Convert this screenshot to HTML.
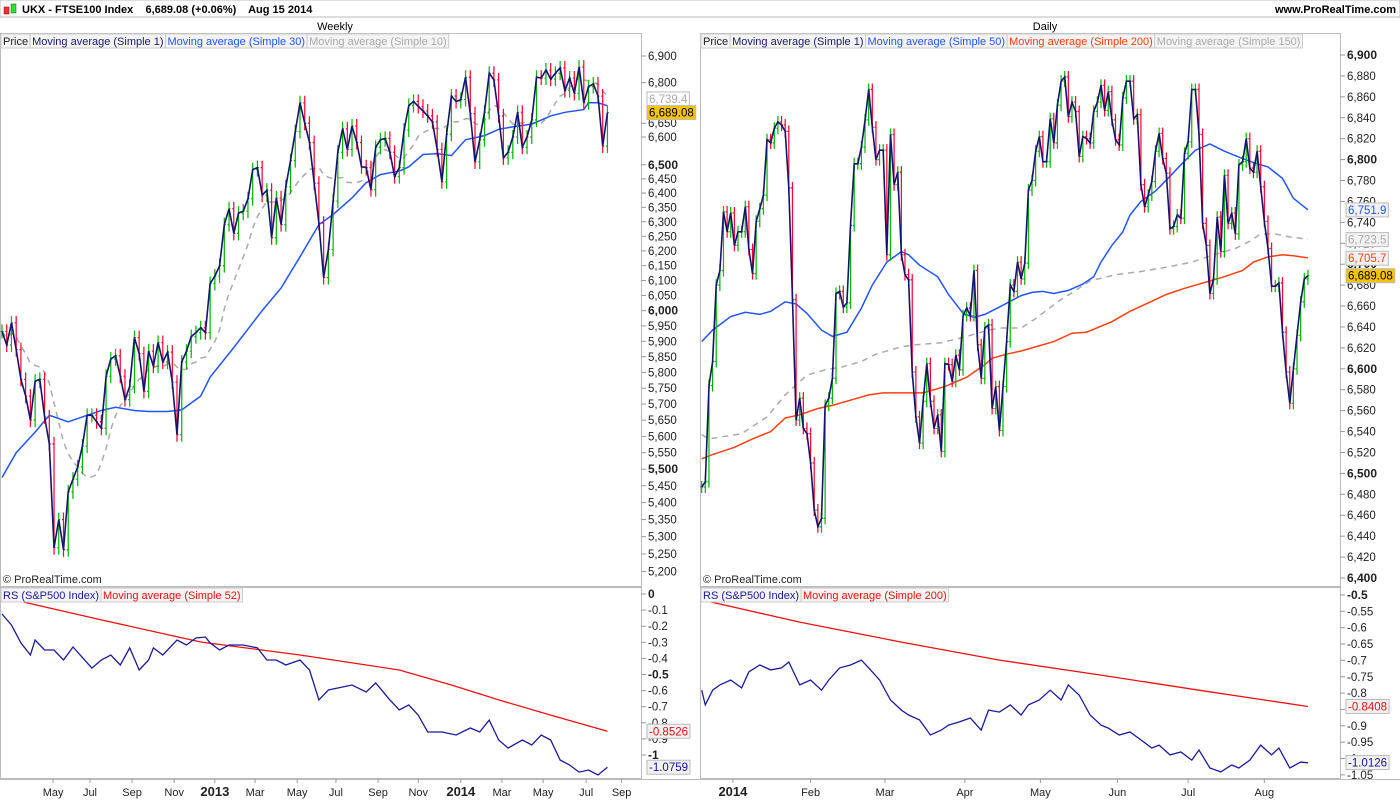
<!DOCTYPE html>
<html><head><meta charset="utf-8"><style>
body{margin:0;background:#fff;font-family:"Liberation Sans",Arial,sans-serif;}
svg text{font-family:"Liberation Sans",Arial,sans-serif;}
</style></head><body>
<svg id="c" width="1400" height="800" viewBox="0 0 1400 800" xmlns="http://www.w3.org/2000/svg">
<defs>
<clipPath id="cl1"><rect x="0" y="33" width="641" height="553"/></clipPath>
<clipPath id="cl2"><rect x="700" y="33" width="640" height="553"/></clipPath>
<clipPath id="cl3"><rect x="0" y="587" width="641" height="191"/></clipPath>
<clipPath id="cl4"><rect x="700" y="587" width="640" height="191"/></clipPath>
</defs>
<g>
<rect x="0" y="0" width="1400" height="17" fill="#fff" stroke="#bbb"/>
<rect x="4" y="7" width="5" height="7" fill="#e33" stroke="#800" stroke-width="0.5"/>
<rect x="11" y="4" width="5" height="9" fill="#3d3" stroke="#060" stroke-width="0.5"/>
<text x="22" y="13" font-size="11" font-weight="bold">UKX - FTSE100 Index &#160;&#160; 6,689.08 (+0.06%) &#160;&#160; Aug 15 2014</text>
<text x="1396" y="13" font-size="11" font-weight="bold" text-anchor="end">www.ProRealTime.com</text>
</g>
<text x="335" y="30" font-size="11" text-anchor="middle">Weekly</text>
<text x="1045" y="30" font-size="11" text-anchor="middle">Daily</text>
<g fill="none" stroke="#bbb">
<rect x="0.5" y="33.5" width="641" height="553"/>
<rect x="0.5" y="587.5" width="641" height="191"/>
<rect x="700.5" y="33.5" width="640" height="553"/>
<rect x="700.5" y="587.5" width="640" height="191"/>
<line x1="0" y1="779.5" x2="1400" y2="779.5"/>
</g>
<g id="marks"></g>
<g id="axes"></g>
<g id="legends" font-size="11"></g>
</svg>
<script>
// ---- Weekly data ----
const wClose=[5932,5888,5960,5873,5778,5725,5650,5772,5778,5660,5577,5268,5350,5262,5432,5470,5507,5570,5665,5665,5645,5625,5788,5843,5853,5788,5714,5756,5912,5860,5740,5868,5820,5896,5833,5865,5769,5605,5833,5868,5915,5928,
5944,5928,6090,6115,6150,6290,6345,6260,6330,6337,6380,6483,6490,6393,6410,6245,6383,6290,6422,6515,6620,6725,6650,6580,6435,6295,6110,6205,6372,6545,6630,6555,6640,6580,6493,6490,6412,6563,6590,6595,6545,6458,6490,
6625,6715,
6730,6712,6695,6677,6655,6555,6440,6610,6750,6730,6737,6820,6685,6510,6590,6690,6835,6810,6677,6525,6545,6600,6690,6563,6600,6662,6820,6817,6847,6813,6835,6855,6770,6817,6760,6858,6725,6785,6795,6750,6567,6689];
const wMa30Idx=[0,3,7,10,14,17,21,24,28,31,35,38,42,44,49,55,59,63,67,70,74,77,80,84,86,89,92,95,98,102,105,109,112,116,119,123,124,126,128];
const wMa30=[5475,5550,5613,5665,5645,5660,5680,5690,5680,5677,5677,5682,5725,5785,5880,6000,6075,6180,6290,6325,6383,6437,6465,6478,6493,6537,6540,6533,6590,6605,6628,6640,6647,6677,6690,6700,6725,6725,6714];
const wRsIdx=[0,2,4,6,7,9,11,13,15,19,21,23,25,27,29,31,32,34,37,39,41,43,44,46,48,51,54,56,58,60,63,65,67,69,71,74,77,79,82,84,86,88,90,93,96,99,101,103,105,107,110,112,114,116,118,120,122,124,126,128];
const wRs=[-.124,-.193,-.304,-.379,-.286,-.348,-.348,-.41,-.329,-.46,-.41,-.379,-.441,-.335,-.472,-.41,-.335,-.379,-.286,-.317,-.273,-.267,-.304,-.348,-.317,-.317,-.335,-.41,-.41,-.441,-.41,-.472,-.658,-.596,-.584,-.565,-.609,-.553,-.658,-.72,-.689,-.752,-.857,-.857,-.876,-.832,-.857,-.783,-.907,-.957,-.907,-.938,-.876,-.907,-1.031,-1.062,-1.106,-1.093,-1.124,-1.076];
const wRsMaIdx=[0,21,42,63,84,95,105,116,128];
const wRsMa=[-0.019,-0.161,-0.298,-0.379,-0.472,-0.565,-0.658,-0.752,-0.853];
const wPriceTicks=[6900,6800,6650,6600,6500,6450,6400,6350,6300,6250,6200,6150,6100,6050,6000,5950,5900,5850,5800,5750,5700,5650,5600,5550,5500,5450,5400,5350,5300,5250,5200];
const wPriceBold=[6500,6000,5500];
const wRsTicks=[0,-0.1,-0.2,-0.3,-0.4,-0.5,-0.6,-0.7,-0.8,-0.9,-1];
const wMonthLabels=["May","Jul","Sep","Nov","2013","Mar","May","Jul","Sep","Nov","2014","Mar","May","Jul","Sep"];
const wMonthIdx=[10.8,18.6,27.5,36.4,45,53.5,62.4,70.6,79.5,88,97,105.7,114.4,123.5,131];
// ---- Daily data ----
const dClose=[6487,6492,6584,6607,6680,6694,6750,6731,6749,6718,6731,6731,6755,6714,6691,6741,6753,6766,6819,6816,6830,6836,6833,6827,6773,6666,6551,6572,6543,6538,6510,6465,6449,6457,6565,6572,6591,6672,6674,6659,6663,6737,6796,6796,6812,6838,6867,6831,6800,6809,6809,6709,6824,6776,6788,6709,6690,6685,6597,6554,6529,6569,6605,6569,6543,6556,6521,6605,6604,6588,6613,6599,6651,6658,6651,6694,6623,6591,6639,6642,6562,6583,6541,6583,6626,6680,6674,6702,
6686,6701,6771,6780,6808,6822,6798,6798,6839,6816,6852,6875,6879,6841,6855,6846,6803,6822,6820,6816,6846,6855,6871,6847,6865,6838,6819,6814,6859,6875,6875,6839,6843,6776,6755,6766,6779,6808,6825,6801,6787,6734,6736,6747,6744,6806,6817,6867,6867,6824,6739,6718,6672,6686,6745,6712,6785,6739,6749,6729,6795,6798,6820,6792,6788,6808,6774,6741,6715,6679,6679,6682,6635,6597,6567,6600,6632,6664,6686,6689];
const dMa50Idx=[0,3,8,12,16,19,23,26,29,33,36,40,44,47,51,55,57,60,65,68,72,75,78,82,88,91,94,97,101,105,108,110,113,116,118,121,125,129,132,136,140,144,149,153,156,160,163,167];
const dMa50=[6626,6637,6650,6654,6652,6655,6664,6662,6653,6637,6631,6635,6658,6680,6702,6712,6709,6699,6688,6671,6653,6649,6652,6659,6670,6673,6674,6672,6675,6681,6688,6702,6718,6731,6747,6760,6770,6784,6795,6809,6815,6808,6801,6796,6793,6782,6763,6752];
const dMa200Idx=[0,3,9,14,19,23,27,32,36,41,46,50,55,61,67,73,78,80,84,88,91,97,102,106,113,118,123,128,133,139,143,149,152,156,160,163,167];
const dMa200=[6514,6518,6525,6533,6540,6553,6556,6562,6565,6570,6575,6577,6577,6577,6583,6592,6604,6610,6614,6617,6620,6626,6634,6635,6645,6655,6663,6671,6677,6683,6687,6694,6702,6707,6709,6708,6706];
const dMa150Idx=[0,2,11,18,23,29,34,39,44,48,55,59,66,73,78,82,88,92,98,103,107,114,121,128,135,141,147,151,154,158,162,167];
const dMa150=[6537,6533,6538,6554,6575,6594,6599,6602,6607,6614,6621,6623,6625,6631,6636,6639,6639,6648,6664,6675,6684,6690,6693,6697,6702,6709,6715,6722,6729,6729,6726,6724];
const dRsIdx=[0,1,3,5,8,11,13,16,19,22,24,27,30,33,35,38,41,44,46,49,52,55,57,60,63,66,68,71,74,77,79,82,85,88,90,93,96,99,101,104,107,110,112,115,118,121,124,126,129,132,135,137,140,143,146,148,151,154,157,159,162,165,167];
const dRs=[-.791,-.836,-.791,-.775,-.76,-.784,-.735,-.714,-.729,-.723,-.705,-.775,-.76,-.791,-.76,-.723,-.714,-.699,-.723,-.76,-.821,-.852,-.867,-.882,-.928,-.913,-.898,-.888,-.876,-.913,-.852,-.858,-.836,-.867,-.836,-.821,-.791,-.821,-.775,-.806,-.867,-.898,-.907,-.928,-.919,-.943,-.968,-.959,-.989,-.98,-1.005,-.974,-1.029,-1.041,-1.02,-1.029,-1.005,-.959,-.989,-.968,-1.029,-1.011,-1.013];
const dRsMaIdx=[0,27,55,82,110,137,167];
const dRsMa=[-0.515,-0.583,-0.644,-0.699,-0.745,-0.791,-0.841];
const dPriceTicks=[6900,6880,6860,6840,6820,6800,6780,6760,6740,6720,6700,6680,6660,6640,6620,6600,6580,6560,6540,6520,6500,6480,6460,6440,6420,6400];
const dPriceBold=[6900,6800,6700,6600,6500,6400];
const dRsTicks=[-0.5,-0.55,-0.6,-0.65,-0.7,-0.75,-0.8,-0.85,-0.9,-0.95,-1,-1.05];
const dMonthLabels=["2014","Feb","Mar","Apr","May","Jun","Jul","Aug"];
const dMonthIdx=[8.6,30,50.5,72.5,93.3,114.5,134,155];

// ---- scales ----
const wX=i=>2+i*4.73, dX=i=>701.7+i*3.63;
const wY=v=>56+1822*Math.log(6900/v);
const dY=v=>55+(6900-v)*1.046;
const wRY=v=>594-v*161;
const dRY=v=>595+(-0.5-v)*327;

const NS="http://www.w3.org/2000/svg";
const marks=document.getElementById('marks'), axes=document.getElementById('axes'), leg=document.getElementById('legends');
function mk(tag,attrs,parent){const e=document.createElementNS(NS,tag);for(const k in attrs)e.setAttribute(k,attrs[k]);parent.appendChild(e);return e;}
function grp(clip,name){const g=mk('g',{'clip-path':'url(#'+clip+')'},marks);


return g;}
function bars(g,close,X,Y,ext,name){
  for(let i=0;i<close.length;i++){
    const o=i?close[i-1]:close[0], c=close[i];
    const up=c>=o, x=X(i), yo=Y(o), yc=Y(c);
    const col=up?'#00b400':'#ff0030';
    const hi=Math.min(yo,yc)-ext, lo=Math.max(yo,yc)+ext;
    const b=mk('path',{d:`M${x},${hi}V${lo}M${x-1.5},${yo}H${x}M${x},${yc}H${x+1.5}`,stroke:col,'stroke-width':1.2,fill:'none'},g);
    
    
  }
}
function line(g,idx,vals,X,Y,col,w,dash,name){
  const d=vals.map((v,k)=>(k?'L':'M')+X(idx?idx[k]:k).toFixed(1)+','+Y(v).toFixed(1)).join('');
  const p=mk('path',{d:d,stroke:col,'stroke-width':w,fill:'none'},g);
  if(dash)p.setAttribute('stroke-dasharray',dash);
  
  
}
function sma(a,n){return a.map((v,i)=>{const s=a.slice(Math.max(0,i-n+1),i+1);return s.reduce((x,y)=>x+y,0)/s.length;});}

// weekly price
let g=grp('cl1','weekly-price-series');
line(g,null,sma(wClose,10),wX,wY,'#aaa',1.5,'6,5','weekly-ma10-line');
line(g,wMa30Idx,wMa30,wX,wY,'#2255ff',1.5,null,'weekly-ma30-line');
bars(g,wClose,wX,wY,7,'weekly-bar');
line(g,null,wClose,wX,wY,'#14146e',1.6,null,'weekly-close-line');
// daily price
g=grp('cl2','daily-price-series');
line(g,dMa150Idx,dMa150,dX,dY,'#aaa',1.5,'6,5','daily-ma150-line');
line(g,dMa200Idx,dMa200,dX,dY,'#ff4010',1.5,null,'daily-ma200-line');
line(g,dMa50Idx,dMa50,dX,dY,'#2255ff',1.5,null,'daily-ma50-line');
bars(g,dClose,dX,dY,6,'daily-bar');
line(g,null,dClose,dX,dY,'#14146e',1.6,null,'daily-close-line');
// RS
g=grp('cl3','weekly-rs-series');
line(g,wRsMaIdx,wRsMa,wX,wRY,'#ee1111',1.3,null,'weekly-rs-ma-line');
line(g,wRsIdx,wRs,wX,wRY,'#1a1a9e',1.3,null,'weekly-rs-line');
g=grp('cl4','daily-rs-series');
line(g,dRsMaIdx,dRsMa,dX,dRY,'#ee1111',1.3,null,'daily-rs-ma-line');
line(g,dRsIdx,dRs,dX,dRY,'#1a1a9e',1.3,null,'daily-rs-line');

// axes
function fmt(v){return v.toLocaleString('en-US');}
function yAxis(ticks,bold,Y,x0,name,f){
  ticks.forEach(v=>{const y=Y(v);
    mk('line',{x1:x0,y1:y,x2:x0+5,y2:y,stroke:'#999'},axes);
    const t=mk('text',{x:x0+7,y:y+4,'font-size':bold.includes(v)?12:11.5,'font-weight':bold.includes(v)?'bold':'normal',fill:'#222'},axes);
    t.textContent=f(v);
    
    
  });
}
yAxis(wPriceTicks,wPriceBold,wY,641,'weekly-price-tick',fmt);
yAxis(dPriceTicks,dPriceBold,dY,1340,'daily-price-tick',fmt);
yAxis(wRsTicks,[0,-0.5,-1],wRY,641,'weekly-rs-tick',v=>String(v));
yAxis(dRsTicks,[-0.5],dRY,1340,'daily-rs-tick',v=>String(v));
function xAxis(labels,idx,X,name){
  labels.forEach((l,k)=>{const x=X(idx[k]);
    mk('line',{x1:x,y1:779,x2:x,y2:783,stroke:'#999'},axes);
    const t=mk('text',{x:x,y:796,'font-size':/^\d/.test(l)?13:11,'font-weight':/^\d/.test(l)?'bold':'normal','text-anchor':'middle',fill:'#222'},axes);
    t.textContent=l;
    
    
  });
}
xAxis(wMonthLabels,wMonthIdx,wX,'weekly-x-label');
xAxis(dMonthLabels,dMonthIdx,dX,'daily-x-label');

// value boxes
function vbox(x,y,txt,col,bg,name){
  const r=mk('rect',{x:x,y:y-7,width:10,height:14,fill:bg,stroke:'#bbb'},axes);
  const t=mk('text',{x:x+2,y:y+4,'font-size':11.5,fill:col},axes);t.textContent=txt;
  r.setAttribute('width',t.getComputedTextLength()+4);
  
  
  
  
}
vbox(647,wY(6739.4),'6,739.4','#aaa','#fff','weekly-ma10-value');
vbox(647,wY(wClose[wClose.length-1]),'6,689.08','#000','#f5c400','weekly-last-value');
vbox(647,wRY(-0.8526),'-0.8526','#e11','#f2f2f2','weekly-rs-ma-value');
vbox(647,wRY(-1.0759),'-1.0759','#11a','#f2f2f2','weekly-rs-value');
vbox(1346,dY(6751.9),'6,751.9','#2255ff','#f2f2f2','daily-ma50-value');
vbox(1346,dY(6723.5),'6,723.5','#aaa','#f2f2f2','daily-ma150-value');
vbox(1346,dY(6705.7),'6,705.7','#ff4010','#f2f2f2','daily-ma200-value');
vbox(1346,dY(dClose[dClose.length-1]),'6,689.08','#000','#f5c400','daily-last-value');
vbox(1346,dRY(-0.8408),'-0.8408','#e11','#f2f2f2','daily-rs-ma-value');
vbox(1346,dRY(-1.0126),'-1.0126','#11a','#f2f2f2','daily-rs-value');

// legends
function legend(x,y,items,name){
  let cx=x;
  items.forEach(([txt,col])=>{
    const r=mk('rect',{x:cx,y:y,width:10,height:14,fill:'#f4f4f4',stroke:'#ccc'},leg);
    const t=mk('text',{x:cx+2,y:y+11,fill:col,'font-size':11},leg);t.textContent=txt;
    const w=t.getComputedTextLength()+4;
    r.setAttribute('width',w);
    
    
    
    
    cx+=w;
  });
}
legend(1,34,[["Price","#222"],["Moving average (Simple 1)","#1a1a6e"],["Moving average (Simple 30)","#2255ff"],["Moving average (Simple 10)","#aaa"]],'weekly-legend-entry');
legend(701,34,[["Price","#222"],["Moving average (Simple 1)","#1a1a6e"],["Moving average (Simple 50)","#2255ff"],["Moving average (Simple 200)","#ff4010"],["Moving average (Simple 150)","#aaa"]],'daily-legend-entry');
legend(1,588,[["RS (S&P500 Index)","#1a1a9e"],["Moving average (Simple 52)","#e11"]],'weekly-rs-legend-entry');
legend(701,588,[["RS (S&P500 Index)","#1a1a9e"],["Moving average (Simple 200)","#e11"]],'daily-rs-legend-entry');
[[3,'weekly-copyright'],[703,'daily-copyright']].forEach(([x,n])=>{
  const t=mk('text',{x:x,y:583,'font-size':11,fill:'#222'},leg);t.textContent='© ProRealTime.com';
  
  
});
</script>
</body></html>
